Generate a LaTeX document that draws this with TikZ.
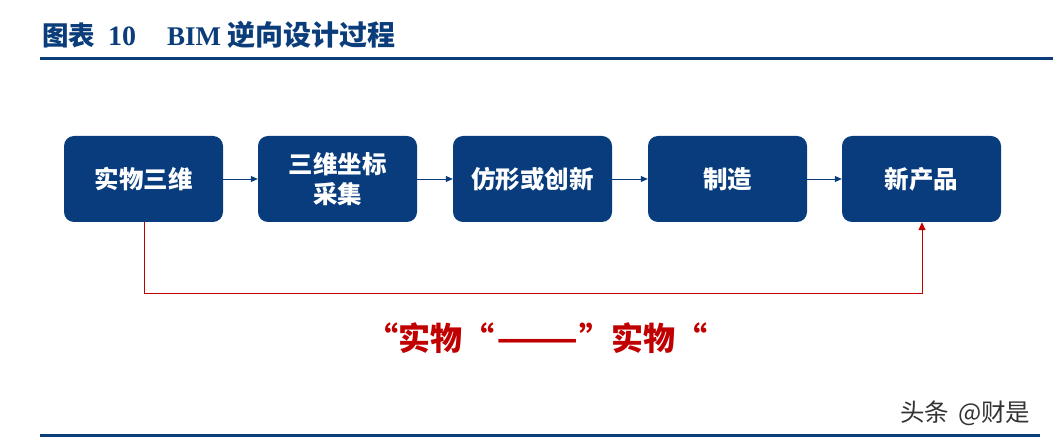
\documentclass[tikz,border=0pt]{standalone}
\usepackage{fontspec}
\usepackage{graphicx}
\setmainfont{Liberation Serif}
\newfontfamily\cjk{Noto Sans CJK SC}
\newfontfamily\cjkfw{Noto Sans CJK SC}[RawFeature=+fwid]
\usetikzlibrary{arrows.meta}
\definecolor{navy}{HTML}{083C7C}
\definecolor{titleblue}{HTML}{0B3D7A}
\definecolor{redline}{HTML}{C00000}
\tikzset{
  stepbox/.style={draw=none, fill=navy, rounded corners=10pt, minimum width=159pt, minimum height=86pt, inner sep=0pt, text=white, font=\cjk\bfseries\fontsize{24.5}{30}\selectfont, align=center},
  flow/.style={draw=navy, line width=0.8pt, -{Triangle[length=7pt,width=6pt]}},
  back/.style={draw=redline, line width=1pt},
  titletext/.style={anchor=base west, inner sep=0pt, text=titleblue},
}
\begin{document}
\begin{tikzpicture}[x=1pt,y=-1pt]
\useasboundingbox (0,0) rectangle (1053,443);
% title
\node[titletext, font=\cjk\bfseries\fontsize{26.5}{30}\selectfont] (t1) at (42,46) {图表};
\node[titletext, font=\rmfamily\bfseries\fontsize{28}{30}\selectfont] (t2) at (108,46) {10};
\node[titletext, font=\rmfamily\bfseries\fontsize{27}{30}\selectfont] (t3) at (167,46) {BIM};
\node[titletext, font=\cjk\bfseries\fontsize{28}{30}\selectfont] (t4) at (227,46) {逆向设计过程};
\draw[titleblue, line width=3pt] (40,58.5) -- (1053,58.5);
% boxes
\node[stepbox] (b1) at (143.5,179) {实物三维};
\node[stepbox] (b2) at (337.5,179) {三维坐标\\采集};
\node[stepbox] (b3) at (532.5,179) {仿形或创新};
\node[stepbox] (b4) at (727.5,179) {制造};
\node[stepbox] (b5) at (921.5,179) {新产品};
\draw[flow] (b1) -- (b2);
\draw[flow] (b2) -- (b3);
\draw[flow] (b3) -- (b4);
\draw[flow] (b4) -- (b5);
\coordinate (c1) at (144,294);
\coordinate (c2) at (922,294);
\draw[back] (b1.south -| c1) -- (c1) -- (c2);
\draw[back, -{Triangle[length=8pt,width=7pt]}] (c2) -- (b5.south -| c2);
% red label
\node[anchor=west, text=redline, font=\cjkfw\bfseries\fontsize{32}{36}\selectfont, inner sep=0pt] (lbl) at (366,338) {“实物“\hspace{2pt}{\cjk\bfseries\scalebox{1.5}[1]{——}}\hspace{1pt}”实物“};
% watermark
\node[anchor=west, inner sep=0pt, text=black!80, font=\cjk\fontsize{24.5}{28}\selectfont] (wm) at (900,413) {头条\hspace{9pt}@财是};
\draw[titleblue, line width=3pt] (40,435.5) -- (1040,435.5);
\end{tikzpicture}
\end{document}
